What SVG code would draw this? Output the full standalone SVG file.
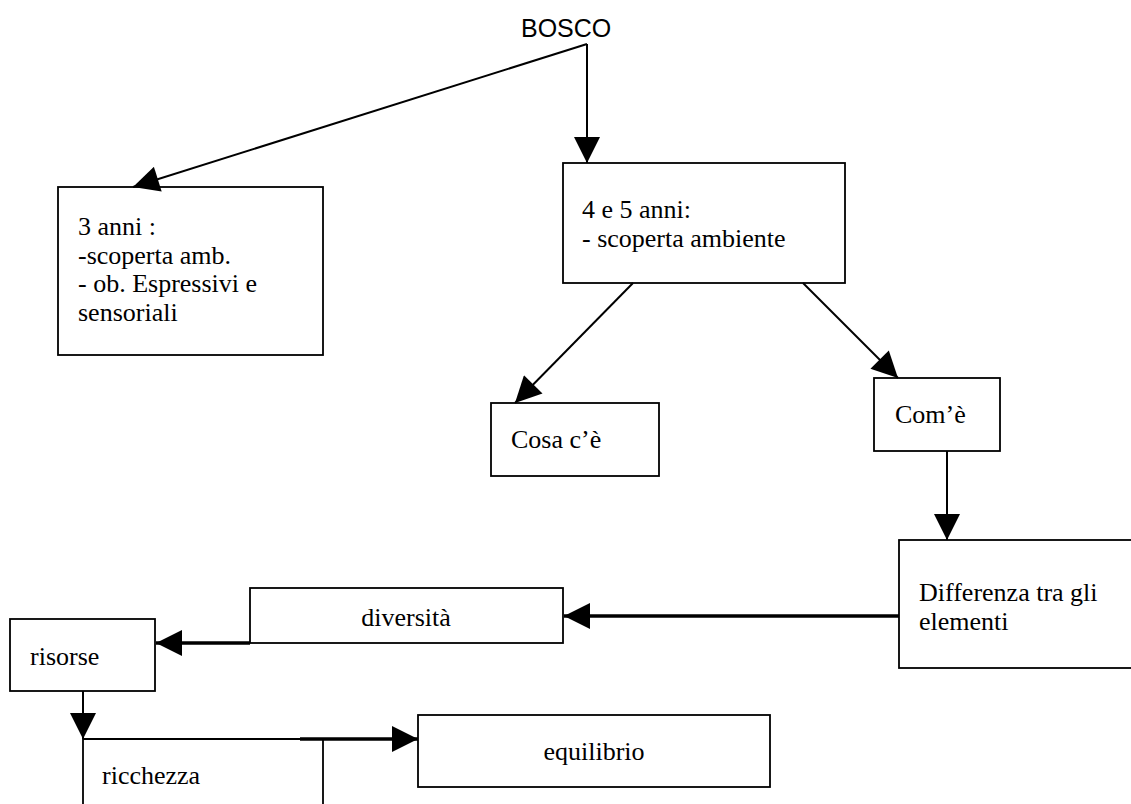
<svg xmlns="http://www.w3.org/2000/svg" width="1131" height="804" viewBox="0 0 1131 804">
<style>
.box{fill:#fff;stroke:#000;stroke-width:1.8}
.t{font-family:"Liberation Serif","Times New Roman",serif;font-size:26px;fill:#000}
.s{font-family:"Liberation Sans",Arial,sans-serif;font-size:25px;fill:#000}
.c{fill:none;stroke:#000;stroke-width:2}
.k{fill:none;stroke:#000;stroke-width:3.5}
</style>
<defs>
<marker id="ah" viewBox="0 0 10 10" refX="10" refY="5" markerUnits="userSpaceOnUse" markerWidth="28" markerHeight="26" orient="auto">
<path d="M0,0 L10,5 L0,10 z" fill="#000"/>
</marker>
</defs>
<rect width="1131" height="804" fill="#fff"/>
<g id="bosco"><text class="s" x="521" y="37">BOSCO</text></g>
<g id="n3anni">
<rect class="box" x="58" y="187" width="265" height="168"/>
<text class="t" x="78" y="235">3 anni :</text>
<text class="t" x="78" y="264">-scoperta amb.</text>
<text class="t" x="78" y="292">- ob. Espressivi e</text>
<text class="t" x="78" y="321">sensoriali</text>
</g>
<g id="n45anni">
<rect class="box" x="563" y="163" width="282" height="120"/>
<text class="t" x="582" y="218">4 e 5 anni:</text>
<text class="t" x="582" y="247">- scoperta ambiente</text>
</g>
<g id="cosa">
<rect class="box" x="491" y="403" width="168" height="73"/>
<text class="t" x="511" y="448">Cosa c’è</text>
</g>
<g id="come">
<rect class="box" x="874" y="378" width="126" height="73"/>
<text class="t" x="895" y="423">Com’è</text>
</g>
<g id="differenza">
<rect class="box" x="899" y="540" width="240" height="128"/>
<text class="t" x="919" y="601">Differenza tra gli</text>
<text class="t" x="919" y="630">elementi</text>
</g>
<g id="diversita">
<rect class="box" x="250" y="588" width="313" height="55"/>
<text class="t" x="406" y="626" text-anchor="middle">diversità</text>
</g>
<g id="risorse">
<rect class="box" x="10" y="619" width="145" height="72"/>
<text class="t" x="30" y="665">risorse</text>
</g>
<g id="ricchezza">
<path class="box" d="M83,810 V739 H323 V810" fill="none"/>
<text class="t" x="102" y="784">ricchezza</text>
</g>
<g id="equilibrio">
<rect class="box" x="418" y="715" width="352" height="72"/>
<text class="t" x="594" y="760" text-anchor="middle">equilibrio</text>
</g>
<g id="connectors">
<path class="c" d="M587,44 L133,187" marker-end="url(#ah)"/>
<path class="c" d="M587,44 V163" marker-end="url(#ah)"/>
<path class="c" d="M633,283 L515,403" marker-end="url(#ah)"/>
<path class="c" d="M803,283 L898,378" marker-end="url(#ah)"/>
<path class="c" d="M947,451 V540" marker-end="url(#ah)"/>
<path class="k" d="M899,616 H564" marker-end="url(#ah)"/>
<path class="k" d="M250,643 H156" marker-end="url(#ah)"/>
<path class="c" d="M83,691 V739" marker-end="url(#ah)"/>
<path class="k" d="M300,739 H418" marker-end="url(#ah)"/>
</g>
</svg>
